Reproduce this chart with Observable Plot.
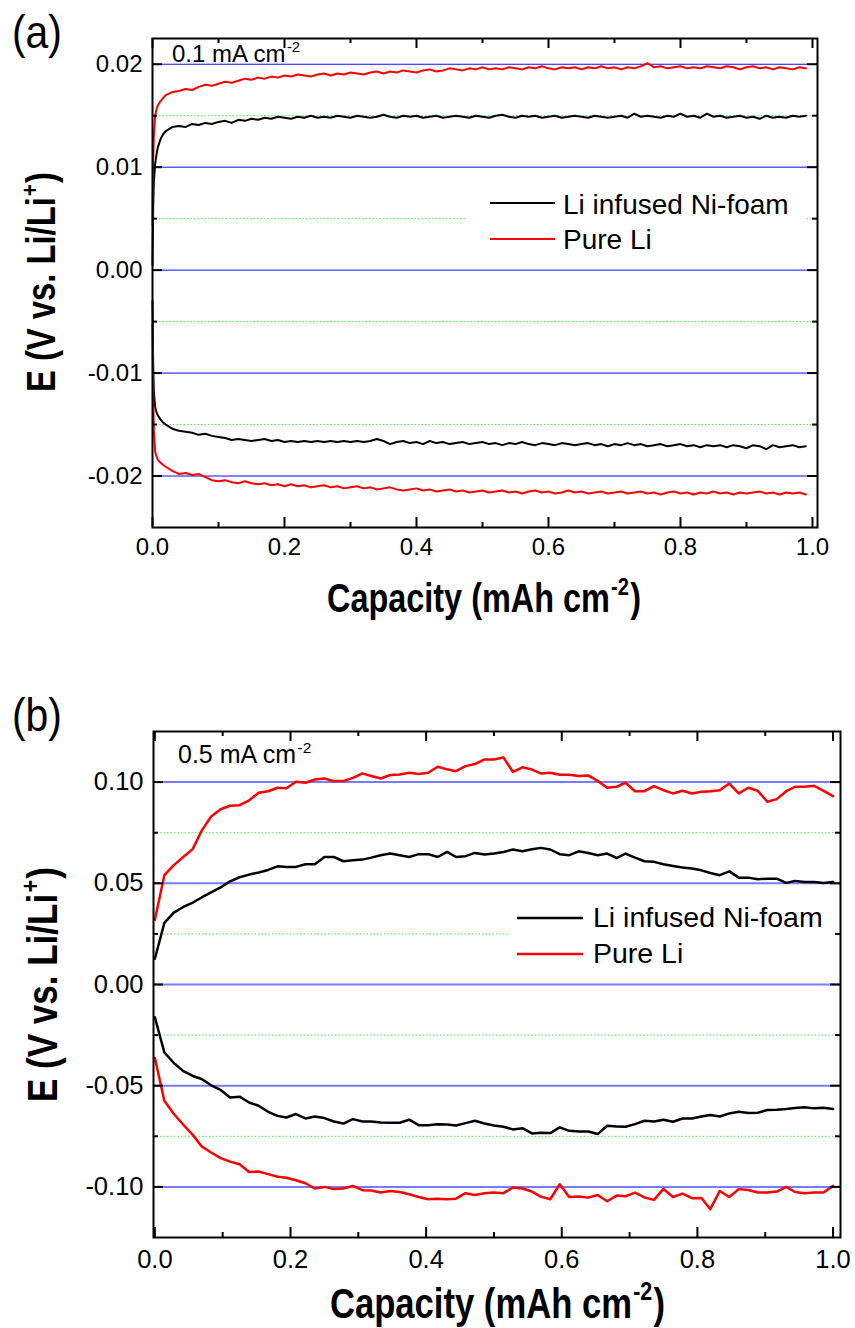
<!DOCTYPE html>
<html><head><meta charset="utf-8">
<script src="https://cdn.jsdelivr.net/npm/d3@7"></script>
<script src="https://cdn.jsdelivr.net/npm/@observablehq/plot@0.6"></script>
<style>
body{margin:0;background:#fff;}
#wrap{position:relative;width:855px;height:1328px;overflow:hidden;background:#fff;}
#wrap svg{position:absolute;left:0;}
</style></head><body><div id="wrap"></div>
<script>
// ---------- data ----------
const seriesNames = ["Li infused Ni-foam", "Pure Li"];
const seriesColors = ["#000000", "#ff0000"];

const xTicks = [0, 0.2, 0.4, 0.6, 0.8, 1.0];
const xTickLabels = ["0.0", "0.2", "0.4", "0.6", "0.8", "1.0"];
const xMinorTicks = [0.1, 0.3, 0.5, 0.7, 0.9];

const yTicksA = [-0.02, -0.01, 0, 0.01, 0.02];
const yTickLabelsA = ["-0.02", "-0.01", "0.00", "0.01", "0.02"];
const yMinorA = [-0.015, -0.005, 0.005, 0.015];

const yTicksB = [-0.1, -0.05, 0, 0.05, 0.1];
const yTickLabelsB = ["-0.10", "-0.05", "0.00", "0.05", "0.10"];
const yMinorB = [-0.075, -0.025, 0.025, 0.075];

const currentA = "0.1 mA cm";
const currentB = "0.5 mA cm";
const currentSup = "-2";

// Panel (a): 0.1 mA cm-2
const capA = [0, 0.001, 0.002, 0.004, 0.006, 0.008, 0.012, 0.016, 0.02,
  0.03, 0.04, 0.05, 0.06, 0.07, 0.08, 0.09,
  0.10, 0.11, 0.12, 0.13, 0.14, 0.15, 0.16, 0.17, 0.18, 0.19,
  0.20, 0.21, 0.22, 0.23, 0.24, 0.25, 0.26, 0.27, 0.28, 0.29,
  0.30, 0.31, 0.32, 0.33, 0.34, 0.35, 0.36, 0.37, 0.38, 0.39,
  0.40, 0.41, 0.42, 0.43, 0.44, 0.45, 0.46, 0.47, 0.48, 0.49,
  0.50, 0.51, 0.52, 0.53, 0.54, 0.55, 0.56, 0.57, 0.58, 0.59,
  0.60, 0.61, 0.62, 0.63, 0.64, 0.65, 0.66, 0.67, 0.68, 0.69,
  0.70, 0.71, 0.72, 0.73, 0.74, 0.75, 0.76, 0.77, 0.78, 0.79,
  0.80, 0.81, 0.82, 0.83, 0.84, 0.85, 0.86, 0.87, 0.88, 0.89,
  0.90, 0.91, 0.92, 0.93, 0.94, 0.95, 0.96, 0.97, 0.98, 0.99];
const niUpA = [0.0005, 0.0060, 0.0085, 0.0103, 0.0112, 0.0119, 0.0127, 0.0132, 0.0135,
  0.0139, 0.0140, 0.0139, 0.0142, 0.0141, 0.0143, 0.0142,
  0.0144, 0.0145, 0.0143, 0.0146, 0.0145, 0.0147, 0.0146, 0.0148, 0.0147, 0.0149,
  0.0148, 0.0147, 0.0149, 0.0148, 0.0150, 0.0148, 0.0149, 0.0148, 0.0150, 0.0149,
  0.0148, 0.0150, 0.0149, 0.0148, 0.0149, 0.0151, 0.0149, 0.0148, 0.0150, 0.0149,
  0.0150, 0.0148, 0.0149, 0.0150, 0.0148, 0.0149, 0.0150, 0.0149, 0.0148, 0.0150,
  0.0149, 0.0148, 0.0150, 0.0151, 0.0149, 0.0148, 0.0150, 0.0149, 0.0150, 0.0148,
  0.0149, 0.0150, 0.0148, 0.0149, 0.0150, 0.0149, 0.0148, 0.0150, 0.0149, 0.0148,
  0.0149, 0.0150, 0.0148, 0.0152, 0.0149, 0.0150, 0.0149, 0.0148, 0.0150, 0.0149,
  0.0152, 0.0149, 0.0150, 0.0148, 0.0152, 0.0149, 0.0150, 0.0148, 0.0149, 0.0150,
  0.0148, 0.0149, 0.0147, 0.0150, 0.0148, 0.0149, 0.0148, 0.0150, 0.0149, 0.0150];
const liUpA = [0.0044, 0.0105, 0.0130, 0.0150, 0.0156, 0.0160, 0.0164, 0.0167, 0.0170,
  0.0173, 0.0174, 0.0176, 0.0175, 0.0178, 0.0180, 0.0179,
  0.0181, 0.0183, 0.0182, 0.0184, 0.0186, 0.0185, 0.0187, 0.0186, 0.0188, 0.0187,
  0.0189, 0.0188, 0.0190, 0.0189, 0.0188, 0.0190, 0.0191, 0.0189, 0.0191, 0.0190,
  0.0192, 0.0191, 0.0190, 0.0192, 0.0193, 0.0191, 0.0193, 0.0192, 0.0194, 0.0193,
  0.0192, 0.0194, 0.0195, 0.0193, 0.0194, 0.0196, 0.0195, 0.0194, 0.0196, 0.0195,
  0.0197, 0.0195, 0.0196, 0.0195, 0.0197, 0.0196, 0.0195, 0.0197, 0.0196, 0.0198,
  0.0196, 0.0195, 0.0197, 0.0196, 0.0197, 0.0195, 0.0197, 0.0196, 0.0198, 0.0196,
  0.0197, 0.0195, 0.0197, 0.0196, 0.0198, 0.0201, 0.0197, 0.0198, 0.0196, 0.0197,
  0.0198, 0.0196, 0.0197, 0.0196, 0.0198, 0.0197, 0.0196, 0.0198, 0.0197, 0.0195,
  0.0197, 0.0198, 0.0196, 0.0197, 0.0195, 0.0197, 0.0196, 0.0195, 0.0197, 0.0196];
const niDownA = [-0.0030, -0.0090, -0.0118, -0.0133, -0.0138, -0.0141, -0.0145, -0.0148, -0.0150,
  -0.0154, -0.0156, -0.0157, -0.0158, -0.0160, -0.0159, -0.0161,
  -0.0162, -0.0163, -0.0165, -0.0164, -0.0165, -0.0166, -0.0165, -0.0164, -0.0166, -0.0165,
  -0.0167, -0.0166, -0.0167, -0.0166, -0.0167, -0.0166, -0.0167, -0.0166, -0.0167, -0.0166,
  -0.0167, -0.0166, -0.0167, -0.0166, -0.0164, -0.0166, -0.0169, -0.0167, -0.0166, -0.0168,
  -0.0167, -0.0169, -0.0166, -0.0168, -0.0167, -0.0169, -0.0168, -0.0167, -0.0169, -0.0168,
  -0.0167, -0.0169, -0.0168, -0.0170, -0.0168, -0.0169, -0.0167, -0.0169, -0.0170, -0.0168,
  -0.0169, -0.0170, -0.0168, -0.0169, -0.0170, -0.0169, -0.0168, -0.0170, -0.0169, -0.0171,
  -0.0169, -0.0170, -0.0168, -0.0170, -0.0169, -0.0171, -0.0170, -0.0169, -0.0171, -0.0170,
  -0.0169, -0.0171, -0.0170, -0.0172, -0.0170, -0.0171, -0.0170, -0.0172, -0.0170, -0.0171,
  -0.0173, -0.0170, -0.0171, -0.0174, -0.0170, -0.0172, -0.0171, -0.0170, -0.0172, -0.0171];
const liDownA = [-0.0053, -0.0120, -0.0155, -0.0176, -0.0181, -0.0184, -0.0187, -0.0189, -0.0191,
  -0.0195, -0.0198, -0.0197, -0.0199, -0.0198, -0.0201, -0.0204,
  -0.0205, -0.0204, -0.0206, -0.0207, -0.0205, -0.0207, -0.0208, -0.0207, -0.0209, -0.0208,
  -0.0210, -0.0208, -0.0210, -0.0209, -0.0211, -0.0210, -0.0209, -0.0211, -0.0210, -0.0212,
  -0.0211, -0.0210, -0.0212, -0.0211, -0.0213, -0.0212, -0.0211, -0.0213, -0.0214, -0.0213,
  -0.0212, -0.0214, -0.0213, -0.0215, -0.0214, -0.0213, -0.0215, -0.0214, -0.0216, -0.0215,
  -0.0214, -0.0216, -0.0215, -0.0214, -0.0216, -0.0215, -0.0217, -0.0215, -0.0214, -0.0216,
  -0.0215, -0.0217, -0.0216, -0.0214, -0.0216, -0.0215, -0.0217, -0.0216, -0.0215, -0.0217,
  -0.0216, -0.0215, -0.0217, -0.0216, -0.0215, -0.0217, -0.0216, -0.0218, -0.0216, -0.0215,
  -0.0217, -0.0216, -0.0218, -0.0216, -0.0217, -0.0215, -0.0217, -0.0216, -0.0218, -0.0216,
  -0.0217, -0.0216, -0.0215, -0.0217, -0.0216, -0.0218, -0.0216, -0.0217, -0.0216, -0.0218];

// Panel (b): 0.5 mA cm-2
const capB = [0, 0.014, 0.028, 0.042, 0.056, 0.069, 0.083, 0.097, 0.111, 0.125,
  0.139, 0.153, 0.167, 0.181, 0.194, 0.208, 0.222, 0.236, 0.25, 0.264,
  0.278, 0.292, 0.306, 0.319, 0.333, 0.347, 0.361, 0.375, 0.389, 0.403,
  0.417, 0.431, 0.444, 0.458, 0.472, 0.486, 0.5, 0.514, 0.528, 0.542,
  0.556, 0.569, 0.583, 0.597, 0.611, 0.625, 0.639, 0.653, 0.667, 0.681,
  0.694, 0.708, 0.722, 0.736, 0.75, 0.764, 0.778, 0.792, 0.806, 0.819,
  0.833, 0.847, 0.861, 0.875, 0.889, 0.903, 0.917, 0.931, 0.944, 0.958,
  0.972, 0.986, 1.0];
const liUpB = [0.032, 0.054, 0.059, 0.063, 0.067, 0.076, 0.083, 0.0866, 0.0883, 0.0886,
  0.091, 0.0947, 0.0955, 0.0972, 0.097, 0.1002, 0.0997, 0.1013, 0.1018, 0.1005,
  0.1005, 0.1021, 0.1043, 0.103, 0.1018, 0.1035, 0.1038, 0.1046, 0.104, 0.1046,
  0.1076, 0.1063, 0.1054, 0.1079, 0.1089, 0.1112, 0.1112, 0.1122, 0.105, 0.1073,
  0.1062, 0.1043, 0.1046, 0.1036, 0.1036, 0.103, 0.1033, 0.1006, 0.0972, 0.0977,
  0.0997, 0.0955, 0.0955, 0.098, 0.096, 0.0944, 0.0957, 0.0944, 0.0952, 0.0955,
  0.096, 0.0993, 0.0944, 0.0972, 0.0957, 0.0903, 0.0916, 0.0955, 0.0977, 0.0977,
  0.0982, 0.0957, 0.0931];
const niUpB = [0.0127, 0.0304, 0.0355, 0.0383, 0.0405, 0.043, 0.0455, 0.048, 0.051, 0.053,
  0.0543, 0.0553, 0.0566, 0.0584, 0.0581, 0.0581, 0.0594, 0.0594, 0.063, 0.063,
  0.0609, 0.0614, 0.0617, 0.0627, 0.0639, 0.0647, 0.0639, 0.063, 0.0644, 0.0644,
  0.063, 0.0655, 0.063, 0.0634, 0.065, 0.0642, 0.0647, 0.0655, 0.0667, 0.0658,
  0.0668, 0.0675, 0.0667, 0.0644, 0.0639, 0.0658, 0.065, 0.0639, 0.0647, 0.0625,
  0.0647, 0.0627, 0.0609, 0.0606, 0.0594, 0.0586, 0.0578, 0.0573, 0.0564, 0.0551,
  0.054, 0.0559, 0.0528, 0.0528, 0.052, 0.0523, 0.0523, 0.0502, 0.0512, 0.0507,
  0.0507, 0.0502, 0.0507];
const niDownB = [-0.0162, -0.0335, -0.0388, -0.0428, -0.0452, -0.0467, -0.0498, -0.0521, -0.0558, -0.0554,
  -0.0583, -0.0599, -0.0629, -0.0649, -0.0657, -0.064, -0.0662, -0.0652, -0.066, -0.0677,
  -0.0687, -0.0665, -0.0677, -0.0677, -0.0682, -0.0683, -0.0683, -0.0668, -0.0695, -0.0695,
  -0.069, -0.0692, -0.0697, -0.0685, -0.0673, -0.0687, -0.0697, -0.0703, -0.0716, -0.071,
  -0.0736, -0.0733, -0.0734, -0.0706, -0.0723, -0.0726, -0.0726, -0.0739, -0.0698, -0.0701,
  -0.0703, -0.069, -0.0673, -0.0677, -0.0668, -0.0678, -0.0662, -0.0662, -0.0652, -0.0645,
  -0.0652, -0.0637, -0.0629, -0.0635, -0.0634, -0.062, -0.0619, -0.0615, -0.061, -0.0607,
  -0.0612, -0.0609, -0.0615];
const liDownB = [-0.0363, -0.0574, -0.064, -0.0693, -0.0743, -0.08, -0.083, -0.0858, -0.0875, -0.0888,
  -0.0926, -0.0924, -0.0937, -0.095, -0.0955, -0.0967, -0.0982, -0.1008, -0.1, -0.1011,
  -0.1008, -0.0995, -0.1016, -0.1018, -0.1028, -0.102, -0.1025, -0.1036, -0.105, -0.1061,
  -0.1058, -0.1061, -0.1058, -0.1031, -0.104, -0.1031, -0.1028, -0.1031, -0.1003, -0.1008,
  -0.1023, -0.1048, -0.1061, -0.0987, -0.105, -0.1048, -0.1053, -0.104, -0.1071, -0.1043,
  -0.1046, -0.1028, -0.1052, -0.1064, -0.101, -0.105, -0.1033, -0.1056, -0.1055, -0.111,
  -0.102, -0.105, -0.1011, -0.1015, -0.1028, -0.1028, -0.1023, -0.1, -0.1025, -0.1031,
  -0.1028, -0.1028, -0.0995];

// ---------- drawing ----------
const FONT = '"Liberation Sans", Arial, Helvetica, sans-serif';
const wrap = document.getElementById("wrap");

function richText(parent, parts, size, attrs) {
  const t = parent.append("text").attr("font-family", FONT).attr("font-size", size)
    .attr("fill", "#000").attr("text-anchor", "start");
  for (const k in attrs) t.attr(k, attrs[k]);
  const shift = size * 0.42;
  let raised = false;
  for (const p of parts) {
    const ts = t.append("tspan").text(p.t);
    if (p.sup) { ts.attr("font-size", size * 0.62).attr("dy", -shift).attr("dx", 1.5); raised = true; }
    else if (raised) { ts.attr("dy", shift).attr("dx", 1.5); raised = false; }
  }
  return t;
}

function buildPanel(cfg) {
  const rows = [];
  for (const s of cfg.series) s.values.forEach((v, i) => rows.push({cap: cfg.cap[i], E: v, name: s.name, key: s.name + "|" + s.branch}));
  const innerH = cfg.height - cfg.mt - cfg.mb;
  const innerW = 855 - cfg.ml - cfg.mr;
  const fmtX = d => xTickLabels[xTicks.indexOf(d)];
  const fmtY = d => cfg.yLabels[cfg.yTicks.indexOf(d)];
  const tk = {stroke: "#000", strokeWidth: 2};
  const svg = Plot.plot({
    width: 855, height: cfg.height,
    marginLeft: cfg.ml, marginRight: cfg.mr, marginTop: cfg.mt, marginBottom: cfg.mb,
    style: {fontFamily: FONT, fontSize: cfg.tickFont + "px", color: "#000", background: "transparent", overflow: "visible"},
    x: {domain: cfg.xDomain, label: null},
    y: {domain: cfg.yDomain, label: null},
    color: {domain: seriesNames, range: seriesColors},
    marks: [
      Plot.ruleY(cfg.yMinor, {y: d => d, stroke: cfg.minorColor, strokeWidth: 1, strokeDasharray: "1.5,2"}),
      Plot.ruleY(cfg.yTicks, {y: d => d, stroke: cfg.majorColor, strokeWidth: cfg.majorWidth}),
      Plot.line(rows, {x: "cap", y: "E", z: "key", stroke: "name", strokeWidth: cfg.lineWidth, strokeLinejoin: "round", curve: "linear"}),
      Plot.tickX(xTicks, {x: d => d, ...tk, insetTop: innerH - 10}),
      Plot.tickX(xMinorTicks, {x: d => d, ...tk, insetTop: innerH - 5}),
      Plot.tickX(xTicks, {x: d => d, ...tk, insetBottom: innerH - 10}),
      Plot.tickX(xMinorTicks, {x: d => d, ...tk, insetBottom: innerH - 5}),
      Plot.tickY(cfg.yTicks, {y: d => d, ...tk, insetRight: innerW - 10}),
      Plot.tickY(cfg.yMinor, {y: d => d, ...tk, insetRight: innerW - 5}),
      Plot.tickY(cfg.yTicks, {y: d => d, ...tk, insetLeft: innerW - 10}),
      Plot.tickY(cfg.yMinor, {y: d => d, ...tk, insetLeft: innerW - 5}),
      Plot.frame({stroke: "#000", strokeWidth: 2}),
      Plot.axisX(xTicks, {tickSize: 0, tickPadding: cfg.xPad, tickFormat: fmtX, label: null}),
      Plot.axisY(cfg.yTicks, {tickSize: 0, tickPadding: 10, tickFormat: fmtY, label: null})
    ]
  });
  svg.style.top = cfg.top + "px";
  wrap.appendChild(svg);
  const g = d3.select(svg);

  // legend
  const L = cfg.legend;
  g.append("rect").attr("x", L.x1).attr("y", L.y1).attr("width", L.x2 - L.x1).attr("height", L.y2 - L.y1).attr("fill", "#fff");
  seriesNames.forEach((name, i) => {
    g.append("line").attr("x1", L.lx1).attr("x2", L.lx2).attr("y1", L.ly[i]).attr("y2", L.ly[i])
      .attr("stroke", seriesColors[i]).attr("stroke-width", L.sw);
    g.append("text").attr("x", L.tx).attr("y", L.tb[i]).attr("font-family", FONT).attr("font-size", L.font)
      .attr("text-anchor", "start").attr("fill", "#000").text(name);
  });

  // current density note
  richText(g, [{t: cfg.current}, {t: currentSup, sup: true}], cfg.noteFont, {x: cfg.noteX, y: cfg.noteY});

  // panel label
  g.append("text").attr("x", 12).attr("y", cfg.tagY).attr("font-family", FONT).attr("font-size", cfg.tagFont)
    .attr("text-anchor", "start").attr("textLength", cfg.tagLen).attr("lengthAdjust", "spacingAndGlyphs")
    .attr("fill", "#000").text(cfg.tag);

  // axis titles
  richText(g, [{t: "Capacity (mAh cm"}, {t: "-2", sup: true}, {t: ")"}], cfg.titleFont,
    {x: cfg.xtX, y: cfg.xtY, "font-weight": "bold", textLength: cfg.xtLen, lengthAdjust: "spacingAndGlyphs"});
  richText(g, [{t: "E (V vs. Li/Li"}, {t: "+", sup: true}, {t: ")"}], cfg.titleFont,
    {transform: `translate(${cfg.ytX},${cfg.ytY}) rotate(-90)`, "font-weight": "bold", textLength: cfg.ytLen, lengthAdjust: "spacingAndGlyphs"});
}

buildPanel({
  top: 0, height: 650, ml: 152, mr: 38, mt: 38, mb: 123,
  xDomain: [0, 1.0076], yDomain: [-0.025, 0.0225],
  cap: capA,
  series: [
    {name: seriesNames[0], branch: "up", values: niUpA},
    {name: seriesNames[1], branch: "up", values: liUpA},
    {name: seriesNames[0], branch: "down", values: niDownA},
    {name: seriesNames[1], branch: "down", values: liDownA}
  ],
  yTicks: yTicksA, yLabels: yTickLabelsA, yMinor: yMinorA,
  majorColor: "#0a0aff", majorWidth: 1, minorColor: "#44ee44", lineWidth: 2,
  tickFont: 24, xPad: 10,
  legend: {x1: 467, x2: 806, y1: 181, y2: 258, lx1: 490, lx2: 555, ly: [203, 239], tx: 563, tb: [214, 249], font: 28, sw: 2},
  current: currentA, noteFont: 24, noteX: 172, noteY: 62,
  tag: "(a)", tagY: 48, tagFont: 46, tagLen: 50,
  titleFont: 40, xtX: 327, xtY: 612, xtLen: 314, ytX: 55, ytY: 392, ytLen: 220
});

buildPanel({
  top: 690, height: 638, ml: 153, mr: 15, mt: 41, mb: 91,
  xDomain: [-0.002, 1.011], yDomain: [-0.125, 0.125],
  cap: capB,
  series: [
    {name: seriesNames[0], branch: "up", values: niUpB},
    {name: seriesNames[1], branch: "up", values: liUpB},
    {name: seriesNames[0], branch: "down", values: niDownB},
    {name: seriesNames[1], branch: "down", values: liDownB}
  ],
  yTicks: yTicksB, yLabels: yTickLabelsB, yMinor: yMinorB,
  majorColor: "#7a7aff", majorWidth: 2, minorColor: "#44ee44", lineWidth: 2.5,
  tickFont: 25.5, xPad: 12,
  legend: {x1: 508, x2: 833, y1: 205, y2: 282, lx1: 517, lx2: 583, ly: [228, 264], tx: 593, tb: [237, 273], font: 28.5, sw: 2.5},
  current: currentB, noteFont: 25, noteX: 178, noteY: 73,
  tag: "(b)", tagY: 41, tagFont: 46, tagLen: 50,
  titleFont: 42, xtX: 330, xtY: 628, xtLen: 335, ytX: 57, ytY: 412, ytLen: 235
});
</script>
</body></html>
